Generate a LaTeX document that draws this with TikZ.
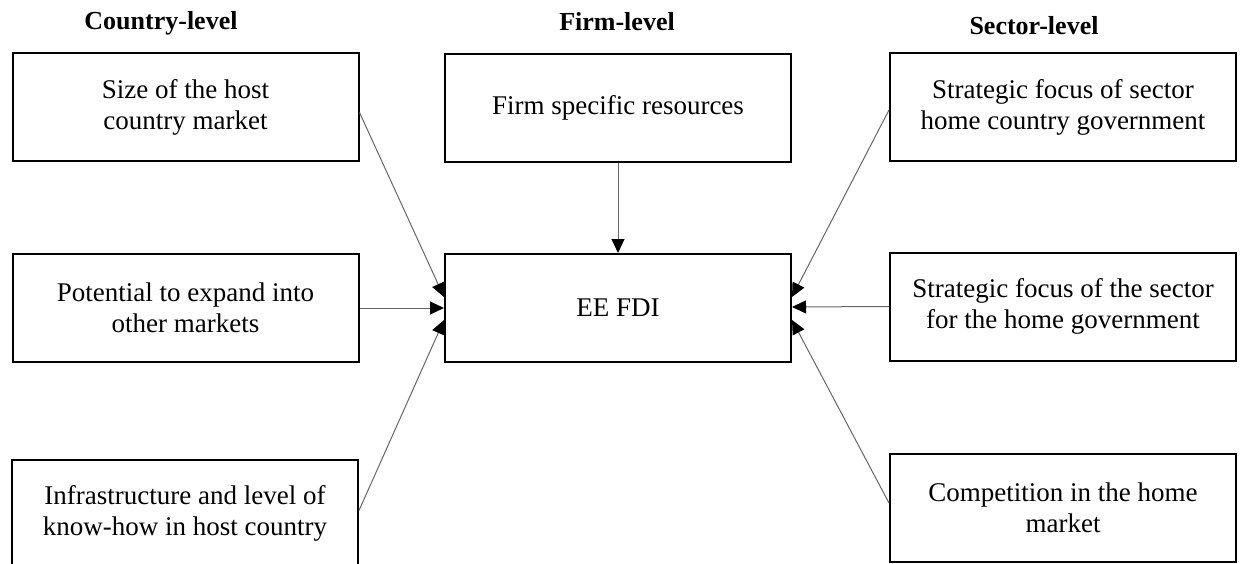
\documentclass[tikz,border=0pt]{standalone}
\usepackage{fontspec}
\setmainfont{Liberation Serif}
\usetikzlibrary{arrows.meta}
\begin{document}
\begin{tikzpicture}[x=1pt,y=-1pt,
  factor/.style={draw=black, line width=2pt, rectangle, align=center,
    minimum width=346pt, minimum height=108pt, inner sep=0pt,
    font=\fontsize{27}{31}\selectfont},
  level/.style={font=\fontsize{26}{30}\selectfont\bfseries},
  link/.style={draw=black!60, line width=1pt,
    -{Triangle[length=14pt,width=13pt,color=black]}}]
\clip (0,0) rectangle (1241,564);
\fill[white] (0,0) rectangle (1241,564);

% column headings
\node[level] (hcountry) at (161,23) {Country-level};
\node[level] (hfirm) at (617,22) {Firm-level};
\node[level] (hsector) at (1034,26) {Sector-level};

% country-level factors
\node[factor] (tl) at (185.5,107.5) {Size of the host\\country market};
\node[factor] (ml) at (185.5,308) {Potential to expand into\\other markets};
\node[factor] (bl) at (185,513.5) {Infrastructure and level of\\know-how in host country};

% firm-level factor and outcome
\node[factor] (firm) at (618,108) {Firm specific resources};
\node[factor] (ee) at (618,308) {EE FDI};

% sector-level factors
\node[factor] (tr) at (1063,107.5) {Strategic focus of sector\\home country government};
\node[factor] (mr) at (1063,306.5) {Strategic focus of the sector\\for the home government};
\node[factor] (br) at (1063,507.5) {Competition in the home\\market};

% links into EE FDI
\draw[link] (firm.south) -- (ee.north);
\draw[link] ([yshift=-5pt]tl.east) -- ([yshift=11pt]ee.west);
\draw[link] (ml.east) -- (ee.west);
\draw[link] ([yshift=3pt]bl.east) -- ([yshift=-12pt]ee.west);
\draw[link] ([yshift=-2.5pt]tr.west) -- ([yshift=11pt]ee.east);
\draw[link] (mr.west) -- ([yshift=1pt]ee.east);
\draw[link] ([yshift=4.5pt]br.west) -- ([yshift=-12pt]ee.east);
\end{tikzpicture}
\end{document}
